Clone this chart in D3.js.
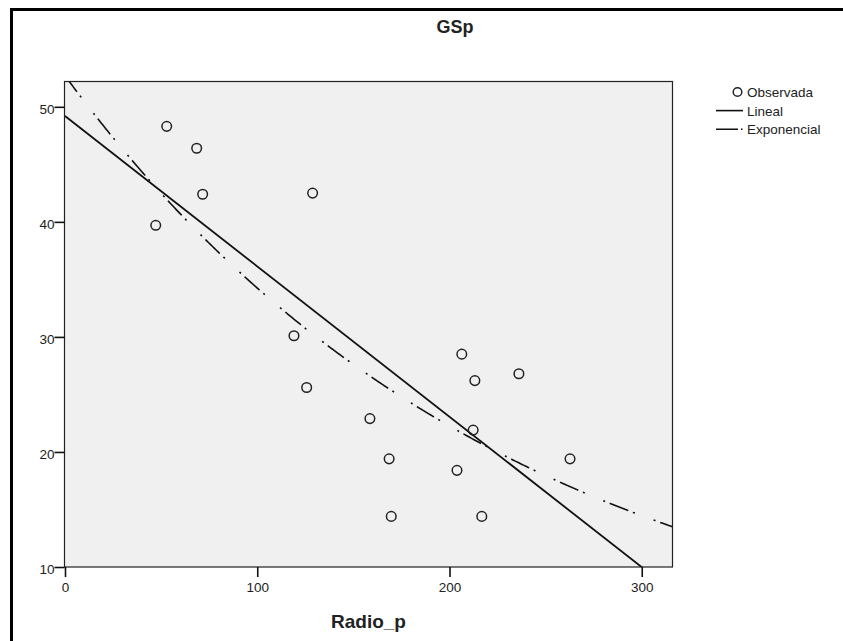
<!DOCTYPE html>
<html lang="es">
<head>
    <meta charset="UTF-8">
    <title>GSp - Radio_p</title>
    <script src="https://d3js.org/d3.v7.min.js"></script>
    <style>
        body { margin: 0; background: #fff; }
        text { font-family: Arial, "Liberation Sans", sans-serif; }
    </style>
</head>
<body>
    <div id="chart"></div>

    <script>
    // observed points (Radio_p, GSp)
    var radioP = [47.2, 52.9, 68.5, 71.6, 128.8, 119.1, 125.7, 158.6, 168.6, 169.7,
                  203.9, 206.4, 213.2, 212.3, 236.1, 262.7, 216.8];
    var gsp    = [39.7, 48.3, 46.4, 42.4, 42.5, 30.1, 25.6, 22.9, 19.4, 14.4,
                  18.4, 28.5, 26.2, 21.9, 26.8, 19.4, 14.4];

    // fitted models
    var linealCoef = [49.2, -0.1307];          // b0 + b1 * x
    var exponencialCoef = [52.7, -0.00431];    // b0 * exp(b1 * x)

    var xTicks = [0, 100, 200, 300];
    var yTicks = [10, 20, 30, 40, 50];
    var legendLabels = ['Observada', 'Lineal', 'Exponencial'];

    (function(d3) {
    'use strict';

    var width = 843, height = 641;
    var pLeft = 64.5, pRight = 672.5, pTop = 81.5, pBottom = 567;

    var svg = d3.select('#chart').append('svg')
        .attr('width', width)
        .attr('height', height);

    // frame (left and top)
    svg.append('path')
        .attr('d', 'M11.5,' + height + 'V9.5H' + width)
        .attr('fill', 'none')
        .attr('stroke', '#000')
        .attr('stroke-width', 3);

    var x = d3.scaleLinear().domain([0, 316]).range([pLeft + 0.5, pRight]);
    var y = d3.scaleLinear().domain([10, 52.2]).range([pBottom, pTop]);

    svg.append('rect')
        .attr('x', pLeft).attr('y', pTop)
        .attr('width', pRight - pLeft).attr('height', pBottom - pTop)
        .attr('fill', '#f0f0f0')
        .attr('stroke', '#222')
        .attr('stroke-width', 1.2);

    svg.append('clipPath').attr('id', 'clip')
        .append('rect')
        .attr('x', pLeft).attr('y', pTop)
        .attr('width', pRight - pLeft).attr('height', pBottom - pTop);

    // axes
    var yAxis = svg.append('g')
        .attr('transform', 'translate(' + pLeft + ',0)')
        .call(d3.axisLeft(y).tickValues(yTicks).tickSize(10).tickPadding(0));
    var xAxis = svg.append('g')
        .attr('transform', 'translate(0,' + pBottom + ')')
        .call(d3.axisBottom(x).tickValues(xTicks).tickSize(10).tickPadding(5));

    [xAxis, yAxis].forEach(function(g) {
        g.select('.domain').remove();
        g.selectAll('.tick line').attr('stroke', '#111').attr('stroke-width', 1.6);
        g.selectAll('.tick text')
            .attr('fill', '#222')
            .style('font-size', '13.5px')
            .style('font-family', 'Arial, "Liberation Sans", sans-serif');
    });
    yAxis.selectAll('.tick text').attr('dy', '0.5em');

    // fit lines
    var plot = svg.append('g').attr('clip-path', 'url(#clip)');
    var xs = d3.range(0, 316.5, 0.5);

    var line = d3.line()
        .x(function(d) { return x(d[0]); })
        .y(function(d) { return y(d[1]); });

    plot.append('path')
        .datum(x.domain().map(function(v) { return [v, linealCoef[0] + linealCoef[1] * v]; }))
        .attr('d', line)
        .attr('fill', 'none')
        .attr('stroke', '#111')
        .attr('stroke-width', 1.8);

    plot.append('path')
        .datum(xs.map(function(v) { return [v, exponencialCoef[0] * Math.exp(exponencialCoef[1] * v)]; }))
        .attr('d', line)
        .attr('fill', 'none')
        .attr('stroke', '#111')
        .attr('stroke-width', 1.6)
        .attr('stroke-dasharray', '20,5,2,20,2,5');

    // observed points
    svg.selectAll('circle.obs')
        .data(d3.zip(radioP, gsp))
        .enter()
        .append('circle')
        .attr('class', 'obs')
        .attr('cx', function(d) { return x(d[0]); })
        .attr('cy', function(d) { return y(d[1]); })
        .attr('r', 4.8)
        .attr('fill', 'none')
        .attr('stroke', '#222')
        .attr('stroke-width', 1.5);

    // titles
    svg.append('text')
        .attr('x', 455).attr('y', 33)
        .attr('text-anchor', 'middle')
        .style('font-size', '18px')
        .style('font-weight', 'bold')
        .attr('fill', '#222')
        .text('GSp');

    svg.append('text')
        .attr('x', (pLeft + pRight) / 2).attr('y', 628)
        .attr('text-anchor', 'middle')
        .style('font-size', '19px')
        .style('font-weight', 'bold')
        .attr('fill', '#222')
        .text('Radio_p');

    // legend
    var legend = svg.append('g').attr('transform', 'translate(716,92)');
    legendLabels.forEach(function(label, i) {
        var g = legend.append('g').attr('transform', 'translate(0,' + (i * 18.6) + ')');
        if (i === 0) {
            g.append('circle').attr('cx', 21.5).attr('cy', 0).attr('r', 4.3)
                .attr('fill', 'none').attr('stroke', '#222').attr('stroke-width', 1.5);
        } else {
            g.append('line').attr('x1', 0).attr('x2', 27).attr('y1', 0).attr('y2', 0)
                .attr('stroke', '#111').attr('stroke-width', 1.6)
                .attr('stroke-dasharray', i === 2 ? '22,3,1.5,10' : null);
        }
        g.append('text')
            .attr('x', 31).attr('y', 5)
            .style('font-size', '13.5px')
            .attr('fill', '#222')
            .text(label);
    });

    })(window.d3);
    </script>
</body>
</html>
